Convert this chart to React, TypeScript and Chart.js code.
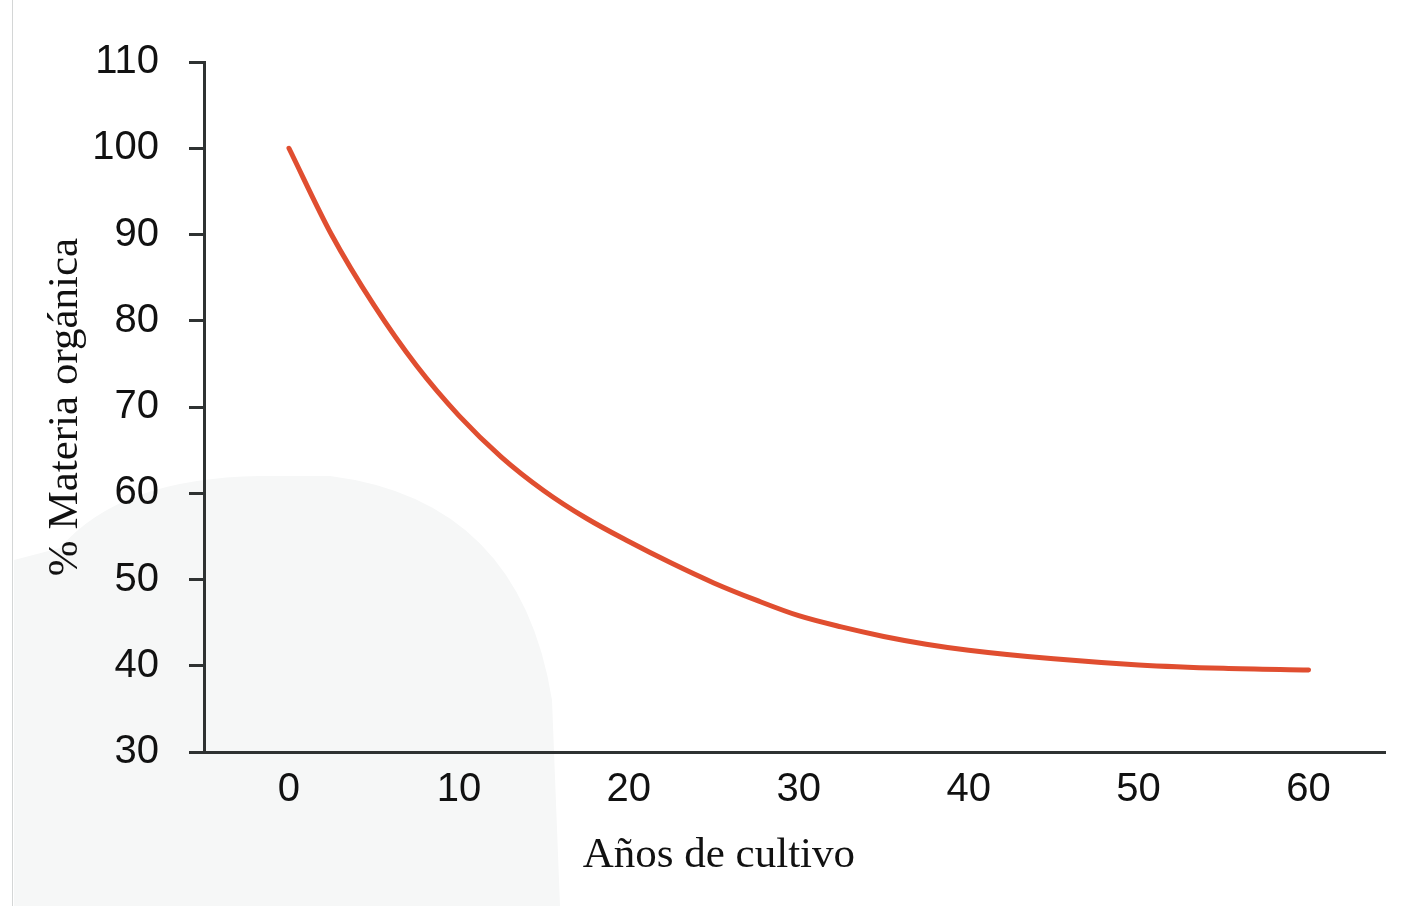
import React, { useEffect, useRef } from "react";
import { Chart, registerables } from "chart.js";

Chart.register(...registerables);

// Data
const years: number[] = [0, 2.5, 5, 7.5, 10, 12.5, 15, 17.5, 20, 22.5, 25, 27.5, 30, 32.5, 35, 37.5, 40, 45, 50, 55, 60];
const organicMatter: number[] = [100, 90.0, 81.8, 74.8, 69.0, 64.2, 60.3, 57.1, 54.4, 51.9, 49.6, 47.6, 45.8, 44.5, 43.4, 42.5, 41.8, 40.8, 40.1, 39.7, 39.5];
const xTickValues: number[] = [0, 10, 20, 30, 40, 50, 60];
const yTickValues: number[] = [30, 40, 50, 60, 70, 80, 90, 100, 110];
const xTitle = "Años de cultivo";
const yTitle = "% Materia orgánica";

const AXIS_COLOR = "#2f3232";
const TEXT_COLOR = "#111111";
const CURVE_COLOR = "#e04e30";

const axisTitlesPlugin = {
  id: "axisTitles",
  afterDraw(chart: any) {
    const { ctx, chartArea, scales } = chart;
    ctx.save();
    ctx.fillStyle = TEXT_COLOR;
    ctx.font = '43px "Liberation Serif", "Times New Roman", serif';
    ctx.textAlign = "center";
    ctx.textBaseline = "middle";
    ctx.fillText(xTitle, scales.x.getPixelForValue(25.3), chartArea.bottom + 104);
    ctx.translate(66, (chartArea.top + chartArea.bottom) / 2);
    ctx.rotate(-Math.PI / 2);
    ctx.fillText(yTitle, 0, 0);
    ctx.restore();
  },
};

const backgroundPlugin = {
  id: "pageBackground",
  beforeDraw(chart: any) {
    const { ctx, height } = chart;
    ctx.save();
    // faint scanned-page blotch at the lower left
    ctx.fillStyle = "#f6f7f7";
    ctx.beginPath();
    ctx.moveTo(14, height);
    ctx.lineTo(14, 560);
    ctx.lineTo(60, 548);
    ctx.quadraticCurveTo(120, 478, 260, 476);
    ctx.lineTo(330, 476);
    ctx.quadraticCurveTo(520, 500, 552, 700);
    ctx.lineTo(560, height);
    ctx.closePath();
    ctx.fill();
    // thin page edge on the left
    ctx.strokeStyle = "#d4d6d6";
    ctx.lineWidth = 1;
    ctx.beginPath();
    ctx.moveTo(12.5, 0);
    ctx.lineTo(12.5, height);
    ctx.stroke();
    ctx.restore();
  },
};

export default function App() {
  const canvasRef = useRef<HTMLCanvasElement | null>(null);

  useEffect(() => {
    const canvas = canvasRef.current;
    if (!canvas) return;
    const tickFont = { family: '"Liberation Sans", Arial, sans-serif', size: 40 };
    const chart = new Chart(canvas, {
      type: "line",
      data: {
        datasets: [
          {
            data: years.map((x, i) => ({ x, y: organicMatter[i] })),
            borderColor: CURVE_COLOR,
            borderWidth: 5,
            borderCapStyle: "round",
            pointRadius: 0,
            fill: false,
            cubicInterpolationMode: "monotone",
          },
        ],
      },
      options: {
        responsive: false,
        animation: false,
        layout: { padding: { left: 0, top: 62, right: 23, bottom: 0 } },
        plugins: {
          legend: { display: false },
          tooltip: { enabled: false },
          title: { display: false },
        },
        scales: {
          x: {
            type: "linear",
            min: -5,
            max: 64.5,
            afterBuildTicks: (scale: any) => {
              scale.ticks = xTickValues.map((v) => ({ value: v }));
            },
            afterFit: (scale: any) => {
              scale.height = 154;
            },
            grid: { display: true, drawOnChartArea: false, drawTicks: false },
            border: { display: true, color: AXIS_COLOR, width: 3 },
            ticks: { color: TEXT_COLOR, font: tickFont, padding: 14, maxRotation: 0 },
          },
          y: {
            type: "linear",
            min: 30,
            max: 110,
            afterBuildTicks: (scale: any) => {
              scale.ticks = yTickValues.map((v) => ({ value: v }));
            },
            afterFit: (scale: any) => {
              scale.width = 204;
            },
            grid: {
              display: true,
              drawOnChartArea: false,
              drawTicks: true,
              tickLength: 15,
              tickWidth: 3,
              tickColor: AXIS_COLOR,
            },
            border: { display: true, color: AXIS_COLOR, width: 3 },
            ticks: { color: TEXT_COLOR, font: tickFont, padding: 30 },
          },
        },
      },
      plugins: [backgroundPlugin, axisTitlesPlugin],
    } as any);
    return () => chart.destroy();
  }, []);

  return (
    <div style={{ position: "absolute", left: 0, top: 0, width: 1408, height: 906, background: "#ffffff" }}>
      <canvas ref={canvasRef} width={1408} height={906} style={{ display: "block" }} />
    </div>
  );
}
